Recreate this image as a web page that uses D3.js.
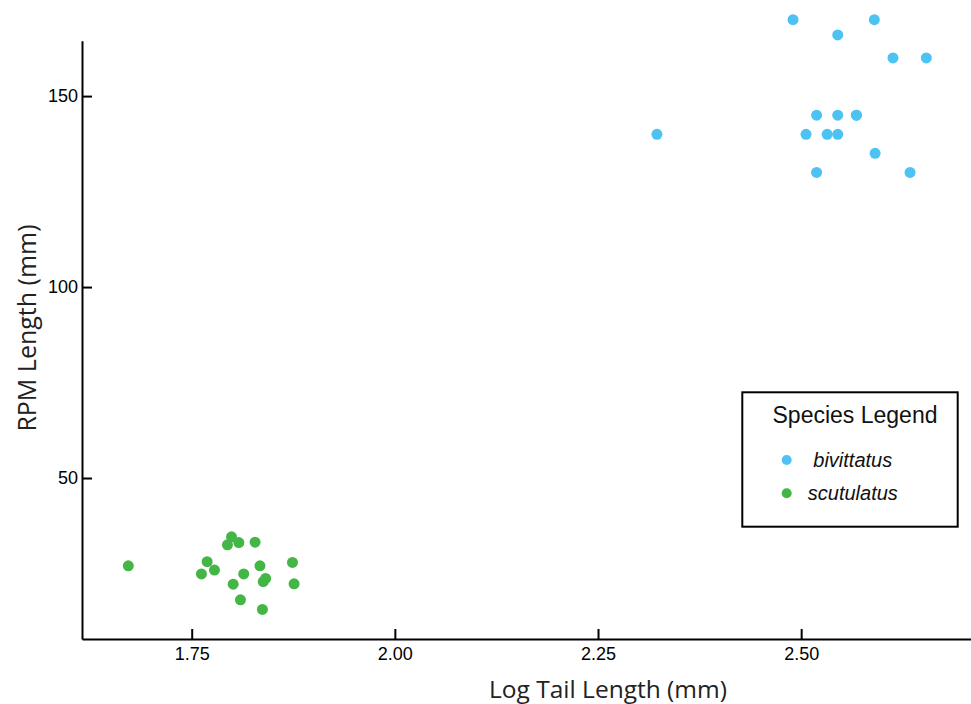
<!DOCTYPE html>
<html>
<head>
<meta charset="utf-8">
<script src="https://cdn.jsdelivr.net/npm/d3@7"></script>
<style>
  html, body { margin: 0; padding: 0; background: #fff; }
  svg { display: block; }
  .tick text { font-family: "Liberation Sans", Arial, sans-serif; font-size: 18px; fill: #000; }
  .axis-title { font-family: "Open Sans", sans-serif; fill: #222; }
  .legend-title { font-family: "Liberation Sans", Arial, sans-serif; font-size: 23px; fill: #111; }
  .legend-label { font-family: "Liberation Sans", Arial, sans-serif; font-size: 20px; font-style: italic; fill: #111; }
</style>
</head>
<body>
<div id="chart"></div>
<script>
// log tail length (x) vs RPM length (y), one array pair per species
const bivittatusX = [2.49, 2.59, 2.545, 2.613, 2.654, 2.519, 2.545, 2.568, 2.568, 2.3225, 2.506, 2.532, 2.545, 2.591, 2.519, 2.634];
const bivittatusY = [170, 170, 166, 160, 160, 145, 145, 145, 145, 140, 140, 140, 140, 135, 130, 130];

const scutulatusX = [1.672, 1.799, 1.794, 1.808, 1.828, 1.769, 1.778, 1.762, 1.814, 1.834, 1.841, 1.838, 1.801, 1.81, 1.837, 1.874, 1.876];
const scutulatusY = [27, 34.6, 32.5, 33.1, 33.2, 28.1, 25.9, 24.9, 24.9, 27, 23.7, 22.9, 22.2, 18.1, 15.6, 27.9, 22.3];

const species = [
  { name: 'bivittatus', color: '#4cc3f2', xs: bivittatusX, ys: bivittatusY },
  { name: 'scutulatus', color: '#44b646', xs: scutulatusX, ys: scutulatusY }
];

const xTicks = [1.75, 2.00, 2.25, 2.50];
const yTicks = [50, 100, 150];

const W = 971, H = 704;
const plot = { left: 82, right: 971, top: 40.7, bottom: 639 };

const x = d3.scaleLinear().domain([1.615, 2.709]).range([plot.left, plot.right]);
const y = d3.scaleLinear().domain([7.85, 164.5]).range([plot.bottom, plot.top]);

const svg = d3.select('#chart').append('svg')
  .attr('width', W)
  .attr('height', H)
  .attr('viewBox', `0 0 ${W} ${H}`);

// axes, ticks pointing into the plot
svg.append('g')
  .attr('transform', `translate(0,${plot.bottom})`)
  .call(d3.axisBottom(x).tickValues(xTicks).tickFormat(d3.format('.2f'))
    .tickSizeInner(-10).tickSizeOuter(0).tickPadding(8))
  .call((ax) => ax.select('.domain').attr('stroke', '#000').attr('stroke-width', 2))
  .call((ax) => ax.selectAll('.tick line').attr('stroke', '#000').attr('stroke-width', 2));

svg.append('g')
  .attr('transform', `translate(${plot.left},0)`)
  .call(d3.axisLeft(y).tickValues(yTicks)
    .tickSizeInner(-10).tickSizeOuter(0).tickPadding(4))
  .call((ax) => ax.select('.domain').attr('stroke', '#000').attr('stroke-width', 2))
  .call((ax) => ax.selectAll('.tick line').attr('stroke', '#000').attr('stroke-width', 2));

svg.selectAll('.tick text').attr('fill', '#000');

svg.append('text')
  .attr('class', 'axis-title')
  .attr('x', 608)
  .attr('y', 698)
  .attr('text-anchor', 'middle')
  .style('font-size', '24.5px')
  .text('Log Tail Length (mm)');

svg.append('text')
  .attr('class', 'axis-title')
  .attr('transform', 'rotate(-90)')
  .attr('x', -328)
  .attr('y', 36)
  .attr('text-anchor', 'middle')
  .style('font-size', '25px')
  .text('RPM Length (mm)');

// points
for (const s of species) {
  svg.append('g')
    .selectAll('circle')
    .data(s.xs.map((v, i) => [v, s.ys[i]]))
    .join('circle')
    .attr('cx', (d) => x(d[0]))
    .attr('cy', (d) => y(d[1]))
    .attr('r', 5.5)
    .attr('fill', s.color);
}

// legend
const lg = svg.append('g').attr('transform', 'translate(742.3,392.3)');
lg.append('rect')
  .attr('width', 215.4)
  .attr('height', 134.4)
  .attr('fill', '#fff')
  .attr('stroke', '#000')
  .attr('stroke-width', 2);
lg.append('text')
  .attr('class', 'legend-title')
  .attr('x', 112.7)
  .attr('y', 30.5)
  .attr('text-anchor', 'middle')
  .text('Species Legend');

species.forEach((s, i) => {
  const row = lg.append('g').attr('transform', `translate(0,${67.7 + i * 33.3})`);
  row.append('circle').attr('cx', 44.4).attr('cy', 0).attr('r', 5).attr('fill', s.color);
  row.append('text')
    .attr('class', 'legend-label')
    .attr('x', s.name === 'bivittatus' ? 71 : 65.5)
    .attr('y', 7)
    .text(s.name);
});
</script>
</body>
</html>
